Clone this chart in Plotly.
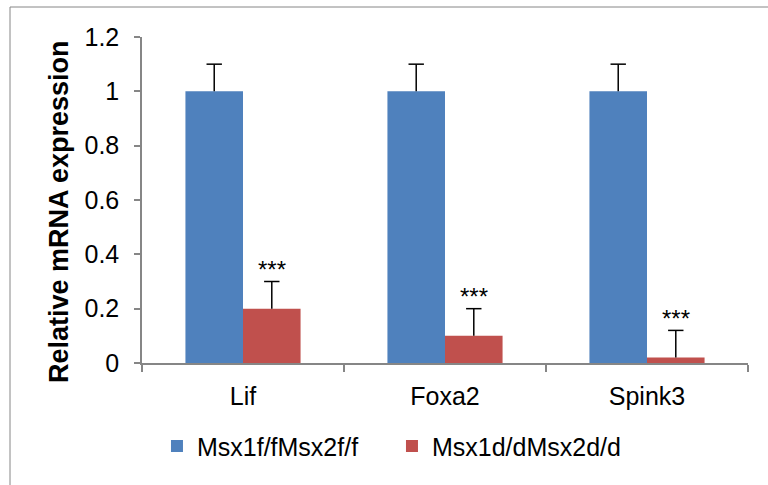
import plotly.graph_objects as go

categories = ["Lif", "Foxa2", "Spink3"]
control_vals = [1.0, 1.0, 1.0]
control_err = [0.1, 0.1, 0.1]
mutant_vals = [0.2, 0.1, 0.02]
mutant_err = [0.1, 0.1, 0.1]
signif = ["***", "***", "***"]
series_names = ["Msx1f/fMsx2f/f", "Msx1d/dMsx2d/d"]
y_ticks = [0, 0.2, 0.4, 0.6, 0.8, 1, 1.2]
y_title = "Relative mRNA expression"

FONT = "Liberation Sans, Arial, sans-serif"
GAP = 0.43

fig = go.Figure()
series = [
    (series_names[0], control_vals, control_err, "#4F81BD", "g1"),
    (series_names[1], mutant_vals, mutant_err, "#C0504D", "g2"),
]
for name, vals, err, col, grp in series:
    fig.add_trace(go.Bar(
        x=categories, y=vals, name=name, offsetgroup=grp,
        marker=dict(color=col, line=dict(width=0)),
        error_y=dict(type="data", array=err, arrayminus=[0]*len(vals), symmetric=False,
                     color="black", thickness=1.5, width=0),
    ))
for name, vals, err, col, grp in series:
    tops = [v + e for v, e in zip(vals, err)]
    fig.add_trace(go.Scatter(
        x=categories, y=tops, mode="markers", offsetgroup=grp, showlegend=False,
        hoverinfo="skip",
        marker=dict(symbol="line-ew", size=11, color="black",
                    line=dict(color="black", width=1.5)),
    ))

for i, c in enumerate(categories):
    fig.add_annotation(
        x=c, y=mutant_vals[i] + mutant_err[i], xref="x", yref="y",
        text=signif[i], showarrow=False, xshift=29, yshift=12,
        font=dict(family=FONT, size=24, color="black"),
    )

fig.add_annotation(
    x=-0.137, y=0.466, xref="paper", yref="paper", xanchor="center", yanchor="middle",
    text="<b>" + y_title + "</b>", textangle=-90, showarrow=False,
    font=dict(family=FONT, size=27, color="black"),
)

fig.add_shape(type="rect", xref="paper", yref="paper",
              x0=-0.2178, x1=1.04, y0=-0.40, y1=1.092,
              line=dict(color="#868686", width=1), fillcolor="rgba(0,0,0,0)", layer="below")

fig.update_layout(
    width=768, height=485,
    margin=dict(l=142, r=20, t=37, b=122),
    paper_bgcolor="white", plot_bgcolor="white",
    barmode="group", bargap=GAP, bargroupgap=0,
    scattermode="group", scattergap=GAP,
    font=dict(family=FONT, size=24, color="black"),
    showlegend=True,
    legend=dict(orientation="h", x=0.4125, xanchor="center", y=-0.185, yanchor="top",
                font=dict(family=FONT, size=25), itemwidth=30, traceorder="normal",
                entrywidth=190, entrywidthmode="pixels"),
    xaxis=dict(showline=True, linecolor="#868686", linewidth=1.5,
               ticks="outside", tickson="boundaries", ticklen=7, tickcolor="#868686",
               tickwidth=1.5, ticklabelstandoff=10, showgrid=False,
               tickfont=dict(family=FONT, size=25)),
    yaxis=dict(range=[0, 1.2], tickvals=y_ticks,
               ticktext=["0", "0.2", "0.4", "0.6", "0.8", "1", "1.2"],
               showline=True, linecolor="#868686", linewidth=1.5,
               ticks="outside", ticklen=6, tickcolor="#868686", tickwidth=1.5,
               ticklabelstandoff=10, showgrid=False, zeroline=False,
               tickfont=dict(family=FONT, size=25)),
)

fig.write_html("out.html")
